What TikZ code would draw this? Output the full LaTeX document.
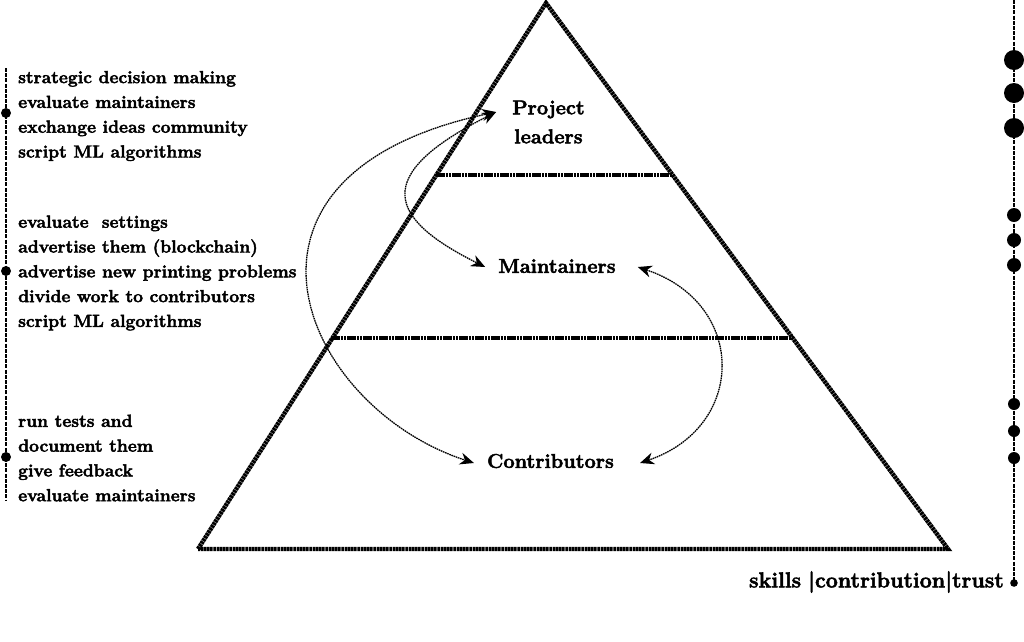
\documentclass[tikz,border=0pt]{standalone}
\usepackage{fontspec}
\setmainfont{Latin Modern Roman}[BoldFeatures={FakeBold=2.4}]
\usetikzlibrary{arrows.meta}
\begin{document}
\begin{tikzpicture}[x=1pt,y=-1pt,
  tri/.style={line width=4.4pt,dash pattern=on 2.6pt off 0.6pt},
  conn/.style={line width=1.3pt,dash pattern=on 1.6pt off 0.7pt,
    {Stealth[length=14pt,width=12pt]}-{Stealth[length=14pt,width=12pt]}},
  rail/.style={line width=1.4pt,dash pattern=on 4pt off 1.2pt},
  lbl/.style={inner sep=0pt,align=center,font=\bfseries\fontsize{20}{29}\selectfont},
  lst/.style={inner sep=0pt,align=left,anchor=west,font=\bfseries\fontsize{17.5}{24.8}\selectfont}]
\useasboundingbox (0,0) rectangle (1024,641);
% triangle
\coordinate (A) at (546,3);
\coordinate (BL) at (198,549);
\coordinate (BR) at (948,549);
\coordinate (L1) at (436,175);
\coordinate (R1) at (672,175);
\coordinate (L2) at (331,338);
\coordinate (R2) at (792,338);
\draw[tri] (BL) -- (A) -- (BR) -- cycle;
\draw[tri] (L1) -- (R1);
\draw[tri] (L2) -- (R2);
% labels
\node[lbl] (pl) at (548.5,122) {Project\\leaders};
\node[lbl] (mt) at (557,266) {Maintainers};
\node[lbl] (ct) at (550.5,461) {Contributors};
% connectors
\draw[conn] ([xshift=-16pt,yshift=10pt]pl.west) .. controls (200,175) and (302,407) .. ([xshift=-13pt,yshift=-2pt]ct.west);
\draw[conn] ([xshift=-16pt,yshift=10pt]pl.west) .. controls (370,175.5) and (388,218.5) .. ([xshift=-13pt,yshift=-1pt]mt.west);
\draw[conn] ([xshift=22pt,yshift=-1pt]mt.east) .. controls (747,303.5) and (747,426.5) .. ([xshift=26pt,yshift=-2pt]ct.east);
% left rail
\coordinate (LT) at (6,68);
\coordinate (LB) at (6,500);
\draw[rail] (LT) -- (LB);
\fill (6,113) circle (5pt);
\fill (6,271) circle (5pt);
\fill (6,457) circle (5pt);
\node[lst] (t1) at (18,116) {strategic decision making\\evaluate maintainers\\exchange ideas community\\script ML algorithms};
\node[lst] (t2) at (18,273) {evaluate\ \ settings\\advertise them (blockchain)\\advertise new printing problems\\divide work to contributors\\script ML algorithms};
\node[lst] (t3) at (18,458) {run tests and\\document them\\give feedback\\evaluate maintainers};
% right rail
\coordinate (RT) at (1014,0);
\coordinate (RB) at (1014,583);
\draw[rail] (RT) -- (RB);
\fill (1014,60) circle (10pt);
\fill (1014,93) circle (10pt);
\fill (1014,128) circle (10pt);
\fill (1014,215) circle (7pt);
\fill (1014,240) circle (7pt);
\fill (1014,265) circle (7pt);
\fill (1014,404) circle (6pt);
\fill (1014,431) circle (6pt);
\fill (1014,458) circle (6pt);
\fill (1014,583) circle (3.8pt);
\node[lst,anchor=east,font=\bfseries\fontsize{21.5}{24}\selectfont] (sk) at (1004,582) {skills\hspace{7pt}|contribution|trust};
\end{tikzpicture}
\end{document}
